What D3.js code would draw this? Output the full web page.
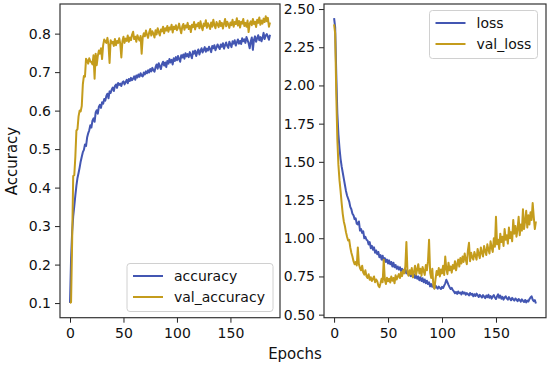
<!DOCTYPE html>
<html>
<head>
<meta charset="utf-8">
<script src="https://cdn.jsdelivr.net/npm/d3@7"></script>
<style>
  body { margin: 0; background: #fff; }
  text { font-family: "DejaVu Sans", sans-serif; fill: #111; }
</style>
</head>
<body>
<div id="chart-area"></div>
<script>
// training history, one value per epoch (0..187)
var accuracy = [
  0.100, 0.215, 0.285, 0.325, 0.352, 0.380, 0.405, 0.425, 0.438, 0.452,
  0.468, 0.480, 0.492, 0.498, 0.512, 0.508, 0.530, 0.541, 0.549, 0.562,
  0.556, 0.574, 0.580, 0.571, 0.595, 0.601, 0.592, 0.610, 0.615, 0.607,
  0.622, 0.618, 0.630, 0.626, 0.638, 0.644, 0.632, 0.650, 0.646, 0.655,
  0.660, 0.651, 0.664, 0.668, 0.659, 0.672, 0.667, 0.670, 0.664, 0.673,
  0.676, 0.668, 0.674, 0.680, 0.671, 0.682, 0.677, 0.685, 0.679, 0.683,
  0.689, 0.680, 0.691, 0.686, 0.694, 0.688, 0.697, 0.691, 0.689, 0.699,
  0.694, 0.702, 0.697, 0.705, 0.699, 0.708, 0.702, 0.711, 0.705, 0.701,
  0.713, 0.720, 0.709, 0.723, 0.715, 0.708, 0.721, 0.727, 0.717, 0.725,
  0.713, 0.729, 0.722, 0.734, 0.725, 0.732, 0.720, 0.736, 0.729, 0.739,
  0.731, 0.742, 0.734, 0.727, 0.744, 0.738, 0.746, 0.735, 0.749, 0.741,
  0.747, 0.739, 0.752, 0.744, 0.736, 0.754, 0.748, 0.756, 0.742, 0.752,
  0.759, 0.746, 0.755, 0.762, 0.751, 0.758, 0.765, 0.753, 0.761, 0.756,
  0.766, 0.759, 0.752, 0.768, 0.762, 0.770, 0.757, 0.764, 0.772, 0.765,
  0.760, 0.772, 0.766, 0.775, 0.761, 0.770, 0.777, 0.768, 0.763, 0.779,
  0.772, 0.765, 0.780, 0.774, 0.783, 0.769, 0.777, 0.785, 0.774, 0.781,
  0.773, 0.788, 0.780, 0.785, 0.776, 0.791, 0.783, 0.775, 0.762, 0.780,
  0.790, 0.758, 0.784, 0.793, 0.779, 0.788, 0.796, 0.783, 0.791, 0.780,
  0.789, 0.802, 0.786, 0.795, 0.799, 0.792, 0.784, 0.797
];
var valAccuracy = [
  0.100, 0.102, 0.260, 0.430, 0.432, 0.480, 0.548, 0.552, 0.585, 0.600,
  0.598, 0.612, 0.668, 0.690, 0.688, 0.735, 0.730, 0.722, 0.736, 0.728,
  0.726, 0.720, 0.744, 0.683, 0.748, 0.718, 0.742, 0.756, 0.748, 0.762,
  0.734, 0.770, 0.785, 0.780, 0.776, 0.789, 0.771, 0.724, 0.783, 0.775,
  0.779, 0.768, 0.786, 0.770, 0.781, 0.776, 0.788, 0.774, 0.738, 0.780,
  0.792, 0.776, 0.787, 0.781, 0.795, 0.779, 0.790, 0.783, 0.797, 0.805,
  0.786, 0.792, 0.779, 0.796, 0.788, 0.782, 0.794, 0.748, 0.790, 0.801,
  0.793, 0.808, 0.797, 0.789, 0.803, 0.812, 0.795, 0.806, 0.800, 0.790,
  0.809, 0.798, 0.814, 0.804, 0.795, 0.811, 0.806, 0.818, 0.801, 0.814,
  0.808, 0.820, 0.805, 0.816, 0.811, 0.823, 0.803, 0.818, 0.812, 0.822,
  0.809, 0.815, 0.826, 0.812, 0.801, 0.819, 0.825, 0.810, 0.821, 0.816,
  0.828, 0.812, 0.820, 0.804, 0.823, 0.817, 0.830, 0.811, 0.824, 0.819,
  0.828, 0.814, 0.832, 0.818, 0.809, 0.826, 0.820, 0.835, 0.815, 0.827,
  0.821, 0.812, 0.829, 0.818, 0.836, 0.822, 0.814, 0.830, 0.824, 0.817,
  0.833, 0.820, 0.828, 0.813, 0.826, 0.838, 0.819, 0.831, 0.824, 0.815,
  0.829, 0.822, 0.836, 0.818, 0.830, 0.825, 0.840, 0.821, 0.833, 0.816,
  0.831, 0.826, 0.838, 0.820, 0.828, 0.818, 0.834, 0.804, 0.826, 0.832,
  0.822, 0.838, 0.825, 0.831, 0.817, 0.836, 0.828, 0.842, 0.823, 0.834,
  0.826, 0.839, 0.830, 0.845, 0.832, 0.841, 0.818, 0.829
];
var loss = [
  2.440, 2.380, 2.080, 1.820, 1.680, 1.590, 1.520, 1.470, 1.430, 1.390,
  1.350, 1.310, 1.280, 1.260, 1.240, 1.205, 1.190, 1.160, 1.150, 1.125,
  1.130, 1.095, 1.090, 1.110, 1.050, 1.060, 1.035, 1.045, 1.000, 1.010,
  0.990, 0.985, 0.960, 0.975, 0.935, 0.950, 0.925, 0.940, 0.905, 0.920,
  0.895, 0.910, 0.875, 0.890, 0.860, 0.885, 0.850, 0.870, 0.845, 0.860,
  0.835, 0.855, 0.830, 0.845, 0.815, 0.840, 0.810, 0.825, 0.800, 0.815,
  0.795, 0.810, 0.785, 0.800, 0.790, 0.775, 0.798, 0.770, 0.785, 0.760,
  0.778, 0.752, 0.770, 0.745, 0.765, 0.740, 0.758, 0.735, 0.750, 0.725,
  0.745, 0.720, 0.738, 0.712, 0.730, 0.705, 0.722, 0.700, 0.712, 0.685,
  0.700, 0.682, 0.694, 0.672, 0.690, 0.678, 0.670, 0.684, 0.675, 0.668,
  0.682, 0.674, 0.690, 0.705, 0.728, 0.712, 0.695, 0.680, 0.668, 0.675,
  0.660, 0.652, 0.640, 0.648, 0.636, 0.652, 0.640, 0.645, 0.632, 0.650,
  0.638, 0.645, 0.630, 0.641, 0.634, 0.626, 0.642, 0.630, 0.637, 0.620,
  0.634, 0.622, 0.638, 0.627, 0.615, 0.630, 0.621, 0.612, 0.628, 0.618,
  0.608, 0.625, 0.614, 0.630, 0.610, 0.622, 0.605, 0.618, 0.628, 0.612,
  0.602, 0.620, 0.633, 0.610, 0.625, 0.604, 0.616, 0.598, 0.612, 0.620,
  0.606, 0.598, 0.615, 0.603, 0.594, 0.610, 0.600, 0.592, 0.606, 0.598,
  0.588, 0.602, 0.596, 0.585, 0.600, 0.590, 0.583, 0.596, 0.580, 0.592,
  0.586, 0.602, 0.612, 0.620, 0.598, 0.588, 0.595, 0.573
];
var valLoss = [
  2.400, 2.340, 1.950, 1.650, 1.480, 1.380, 1.310, 1.230, 1.160, 1.110,
  1.080, 1.040, 1.010, 0.985, 0.990, 0.940, 0.905, 0.880, 0.850, 0.830,
  0.845, 0.822, 0.940, 0.830, 0.805, 0.790, 0.820, 0.775, 0.762, 0.790,
  0.752, 0.740, 0.765, 0.728, 0.745, 0.720, 0.735, 0.750, 0.712, 0.730,
  0.718, 0.690, 0.680, 0.705, 0.735, 0.712, 0.860, 0.728, 0.700, 0.742,
  0.718, 0.735, 0.710, 0.750, 0.722, 0.740, 0.705, 0.758, 0.730, 0.748,
  0.765, 0.740, 0.778, 0.752, 0.790, 0.770, 0.815, 0.975, 0.780, 0.755,
  0.790, 0.765, 0.805, 0.745, 0.780, 0.820, 0.762, 0.795, 0.830, 0.770,
  0.800, 0.755, 0.812, 0.785, 0.760, 0.825, 0.790, 0.850, 0.990, 0.775,
  0.740, 0.800, 0.690, 0.670, 0.735, 0.785, 0.760, 0.805, 0.750, 0.795,
  0.770, 0.820, 0.760, 0.880, 0.800, 0.765, 0.840, 0.790, 0.815, 0.775,
  0.825, 0.800, 0.850, 0.790, 0.830, 0.860, 0.815, 0.870, 0.835, 0.880,
  0.845, 0.900, 0.860, 0.830, 0.920, 0.970, 0.850, 0.905, 0.875, 0.860,
  0.910, 0.885, 0.860, 0.930, 0.895, 0.870, 0.940, 0.905, 0.880, 0.950,
  0.915, 0.890, 0.960, 0.925, 0.900, 0.980, 0.940, 0.910, 1.000, 0.945,
  1.140, 0.960, 0.990, 0.930, 1.030, 0.975, 1.010, 0.950, 1.060, 0.990,
  1.020, 0.965, 1.070, 1.000, 1.040, 0.980, 1.120, 1.030, 1.080, 1.010,
  1.060, 1.140, 1.020, 1.090, 1.050, 1.190, 1.060, 1.110, 1.180, 1.070,
  1.150, 1.090, 1.170, 1.120, 1.230, 1.140, 1.060, 1.110
];

var accTicks = [0.1, 0.2, 0.3, 0.4, 0.5, 0.6, 0.7, 0.8];
var lossTicks = [0.5, 0.75, 1.0, 1.25, 1.5, 1.75, 2.0, 2.25, 2.5];
var epochTicks = [0, 50, 100, 150];

var blue = "#4356b2", gold = "#c49c1c";

var width = 550, height = 368;
var plotTop = 4, plotBottom = 317.7;

var svg = d3.select("#chart-area")
    .append("svg")
    .attr("width", width)
    .attr("height", height);

// matplotlib style 5% margin around the epochs
var nEp = accuracy.length - 1;
var xDomain = [-0.05 * nEp, nEp * 1.05];

function panel(opts) {
    var x = d3.scaleLinear().domain(xDomain).range([opts.left, opts.right]);
    var y = d3.scaleLinear().domain(opts.yDomain).range([plotBottom, plotTop]);
    var g = svg.append("g");

    var line = d3.line()
        .x(function(d, i) { return x(i); })
        .y(function(d) { return y(d); });

    opts.series.forEach(function(s) {
        g.append("path")
            .datum(s.values)
            .attr("fill", "none")
            .attr("stroke", s.color)
            .attr("stroke-width", 2)
            .attr("stroke-linejoin", "round")
            .attr("d", line);
    });

    // x axis
    var xa = g.append("g")
        .attr("transform", "translate(0," + plotBottom + ")")
        .call(d3.axisBottom(x).tickValues(epochTicks).tickSize(5).tickPadding(5));
    // y axis
    var ya = g.append("g")
        .attr("transform", "translate(" + opts.left + ",0)")
        .call(d3.axisLeft(y).tickValues(opts.yTicks).tickFormat(opts.fmt).tickSize(5).tickPadding(4));
    [xa, ya].forEach(function(a) {
        a.select(".domain").remove();
        a.selectAll("line").attr("stroke", "#222").attr("stroke-width", 1);
        a.selectAll("text").attr("font-size", "14px")
            .attr("font-family", "DejaVu Sans").attr("fill", "#111");
    });

    // frame
    g.append("rect")
        .attr("x", opts.left).attr("y", plotTop)
        .attr("width", opts.right - opts.left).attr("height", plotBottom - plotTop)
        .attr("fill", "none").attr("stroke", "#333").attr("stroke-width", 1.2);

    // legend
    var lg = g.append("g").attr("transform", "translate(" + opts.legend.x + "," + opts.legend.y + ")");
    lg.append("rect")
        .attr("width", opts.legend.w).attr("height", 48)
        .attr("rx", 3)
        .attr("fill", "#fff").attr("fill-opacity", 0.8)
        .attr("stroke", "#d0d0d0").attr("stroke-width", 1);
    opts.series.forEach(function(s, i) {
        var row = lg.append("g").attr("transform", "translate(0," + (12.5 + i * 21) + ")");
        row.append("line")
            .attr("x1", 6).attr("x2", 36)
            .attr("stroke", s.color).attr("stroke-width", 2);
        row.append("text")
            .attr("x", 47).attr("y", 5)
            .attr("font-size", "14px")
            .text(s.name);
    });
}

panel({
    left: 60, right: 280,
    yDomain: [0.062, 0.877],
    yTicks: accTicks,
    fmt: d3.format(".1f"),
    series: [
        { name: "accuracy", values: accuracy, color: blue },
        { name: "val_accuracy", values: valAccuracy, color: gold }
    ],
    legend: { x: 127, y: 263.5, w: 146 }
});

panel({
    left: 324, right: 546,
    yDomain: [0.48, 2.533],
    yTicks: lossTicks,
    fmt: d3.format(".2f"),
    series: [
        { name: "loss", values: loss, color: blue },
        { name: "val_loss", values: valLoss, color: gold }
    ],
    legend: { x: 429.5, y: 10.5, w: 108 }
});

// Labels
svg.append("text")
    .attr("transform", "translate(17,161) rotate(-90)")
    .attr("font-size", "15px")
    .attr("text-anchor", "middle")
    .text("Accuracy");

svg.append("text")
    .attr("x", 295)
    .attr("y", 359)
    .attr("font-size", "15px")
    .attr("text-anchor", "middle")
    .text("Epochs");
</script>
</body>
</html>
